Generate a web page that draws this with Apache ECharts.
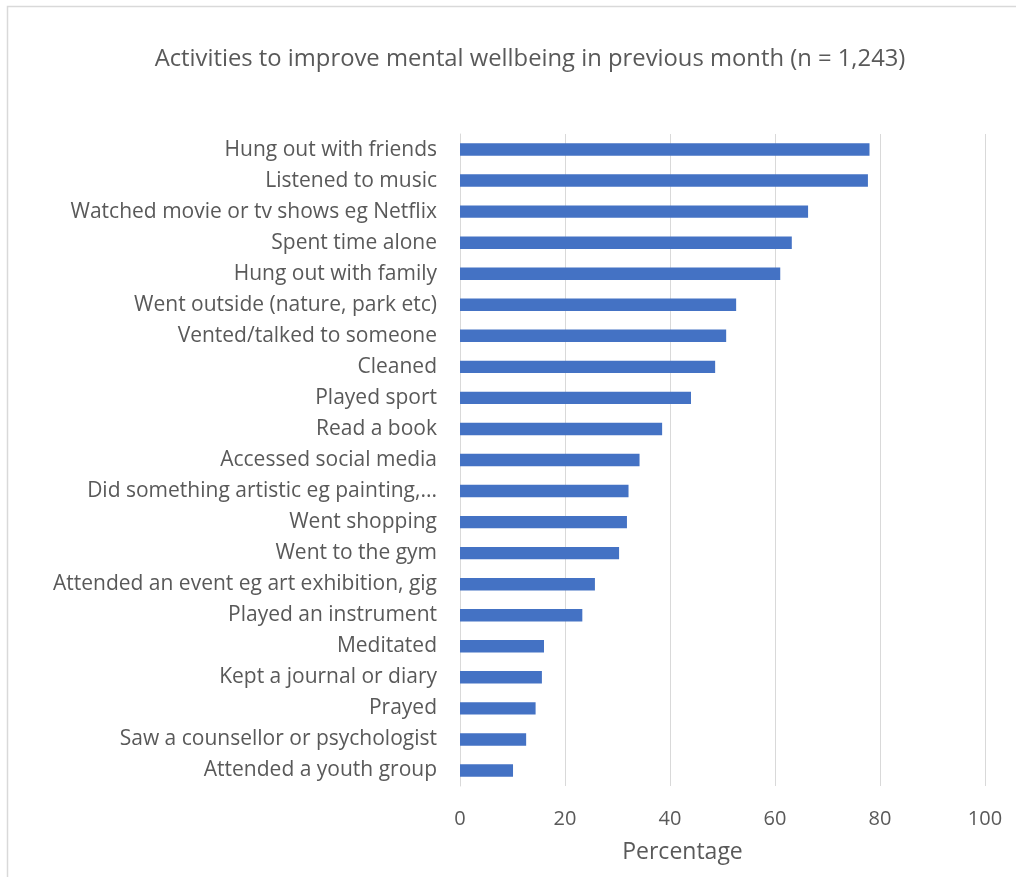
<!DOCTYPE html>
<html>
<head>
<meta charset="utf-8">
<script src="https://cdn.jsdelivr.net/npm/echarts@6/dist/echarts.min.js"></script>
<style>
  html, body { margin: 0; padding: 0; background: #fff; }
  #chart { width: 1016px; height: 877px; }
</style>
</head>
<body>
<div id="chart"></div>
<script>
// Activities, listed top to bottom
const activities = [
  'Hung out with friends',
  'Listened to music',
  'Watched movie or tv shows eg Netflix',
  'Spent time alone',
  'Hung out with family',
  'Went outside (nature, park etc)',
  'Vented/talked to someone',
  'Cleaned',
  'Played sport',
  'Read a book',
  'Accessed social media',
  'Did something artistic eg painting,...',
  'Went shopping',
  'Went to the gym',
  'Attended an event eg art exhibition, gig',
  'Played an instrument',
  'Meditated',
  'Kept a journal or diary',
  'Prayed',
  'Saw a counsellor or psychologist',
  'Attended a youth group'
];

// Percentage of respondents for each activity (same order)
const percentages = [
  78.0, 77.7, 66.3, 63.2, 61.0, 52.6, 50.7, 48.6, 44.0, 38.5, 34.2,
  32.1, 31.8, 30.3, 25.7, 23.3, 16.0, 15.6, 14.4, 12.6, 10.1
];

const xTicks = [0, 20, 40, 60, 80, 100];

const chartTitle = 'Activities to improve mental wellbeing in previous month (n = 1,243)';
const xAxisTitle = 'Percentage';

const chart = echarts.init(document.getElementById('chart'), null, { renderer: 'canvas' });

const labelFont = '"Open Sans", "Noto Sans", sans-serif';
const textGrey = '#595959';

chart.setOption({
  animation: false,
  backgroundColor: '#ffffff',
  title: {
    text: chartTitle,
    left: 525,
    top: 42,
    textAlign: 'center',
    textStyle: {
      fontFamily: labelFont,
      fontSize: 23.8,
      fontWeight: 'normal',
      color: textGrey
    }
  },
  graphic: [{
    type: 'rect',
    shape: { x: 7.5, y: 6.5, width: 1100, height: 1000 },
    style: { fill: 'none', stroke: '#d9d9d9', lineWidth: 1.5 },
    silent: true,
    z: -1
  }],
  grid: {
    left: 460,
    top: 134,
    width: 525,
    height: 652,
    containLabel: false
  },
  xAxis: {
    type: 'value',
    min: xTicks[0],
    max: xTicks[xTicks.length - 1],
    interval: xTicks[1] - xTicks[0],
    name: xAxisTitle,
    nameLocation: 'middle',
    nameGap: 55,
    nameTextStyle: {
      fontFamily: labelFont,
      fontSize: 23,
      color: textGrey,
      padding: [0, 80, 0, 0]
    },
    axisLine: { show: false },
    axisTick: { show: false },
    axisLabel: {
      margin: 23,
      fontFamily: labelFont,
      fontSize: 20,
      color: textGrey
    },
    splitLine: { show: true, lineStyle: { color: '#d9d9d9', width: 1 } }
  },
  yAxis: {
    type: 'category',
    data: activities,
    inverse: true,
    axisLine: { show: true, lineStyle: { color: '#d9d9d9', width: 1 } },
    axisTick: { show: false },
    axisLabel: {
      margin: 23,
      fontFamily: labelFont,
      fontSize: 21,
      color: textGrey,
      padding: [3, 0, 0, 0]
    },
    splitLine: { show: false }
  },
  series: [{
    type: 'bar',
    data: percentages,
    barCategoryGap: '60%',
    itemStyle: { color: '#4472c4' },
    z: 3
  }]
});
</script>
</body>
</html>
